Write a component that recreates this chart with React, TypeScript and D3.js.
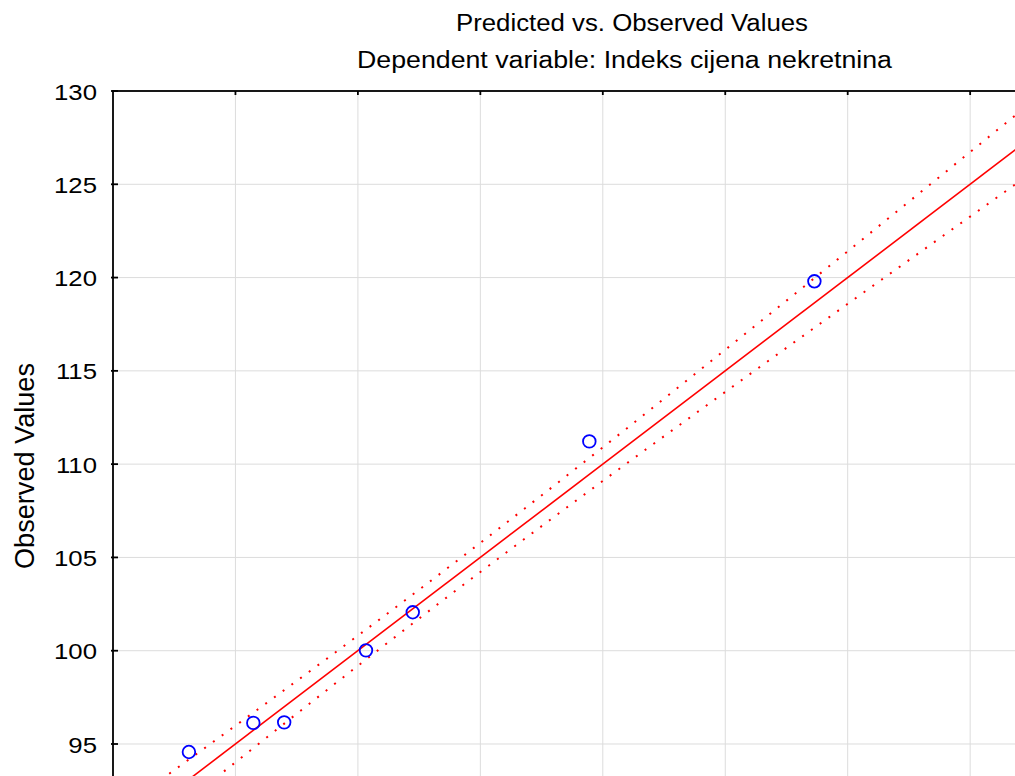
import React from "react";
import * as d3 from "d3";

const predicted = [93.1, 95.73, 96.99, 100.33, 102.24, 109.45, 118.64];
const observed = [94.57, 96.13, 96.16, 100.02, 102.06, 111.22, 119.8];

const bandX = [88, 90, 95, 100, 103.5, 105, 110, 115, 120, 125, 130, 132];
const bandHalf = [1.36, 1.24, 0.98, 0.81, 0.77, 0.78, 0.9, 1.13, 1.41, 1.73, 2.06, 2.2];

const xTicks = [95, 100, 105, 110, 115, 120, 125];
const yTicks = [95, 100, 105, 110, 115, 120, 125, 130];

const title1 = "Predicted vs. Observed Values";
const title2 = "Dependent variable: Indeks cijena nekretnina";
const yLabel = "Observed Values";

export default function App() {
  const left = 113;
  const top = 91;
  const x = d3.scaleLinear().domain([90, 130]).range([left, left + 40 * 24.49]);
  const y = d3.scaleLinear().domain([90, 130]).range([top + 40 * 18.657, top]);
  const right = x(130);
  const bottom = y(90);

  const fitLine = d3.line<number>().x((d) => x(d)).y((d) => y(d));
  const bandUpper = d3
    .line<number>()
    .x((d) => x(d))
    .y((d, i) => y(d + bandHalf[i]))
    .curve(d3.curveMonotoneX);
  const bandLower = d3
    .line<number>()
    .x((d) => x(d))
    .y((d, i) => y(d - bandHalf[i]))
    .curve(d3.curveMonotoneX);

  const font = "'Liberation Sans', Arial, sans-serif";
  const sx = 1.12;

  return (
    <svg
      width={1015}
      height={776}
      style={{ position: "fixed", left: 0, top: 0, background: "#fff" }}
    >
      <defs>
        <clipPath id="plotclip">
          <rect x={left} y={top} width={right - left} height={bottom - top} />
        </clipPath>
      </defs>
      <rect x={0} y={0} width={1015} height={776} fill="#fff" />
      {xTicks.map((t) => (
        <line key={"gx" + t} x1={x(t)} x2={x(t)} y1={top} y2={bottom} stroke="#dcdcdc" strokeWidth={1} />
      ))}
      {yTicks.map((t) => (
        <line key={"gy" + t} x1={left} x2={right} y1={y(t)} y2={y(t)} stroke="#dcdcdc" strokeWidth={1} />
      ))}
      <g clipPath="url(#plotclip)">
        <path d={fitLine([88, 132]) || ""} stroke="#ff0000" strokeWidth={1.6} fill="none" />
        <path
          d={bandUpper(bandX) || ""}
          stroke="#ff0000"
          strokeWidth={2}
          strokeDasharray="2 8.8"
          fill="none"
        />
        <path
          d={bandLower(bandX) || ""}
          stroke="#ff0000"
          strokeWidth={2}
          strokeDasharray="2 8.8"
          fill="none"
        />
        {predicted.map((p, i) => (
          <circle key={i} cx={x(p)} cy={y(observed[i])} r={6.3} fill="none" stroke="#0000ff" strokeWidth={1.8} />
        ))}
      </g>
      <rect x={left} y={top} width={right - left} height={bottom - top} fill="none" stroke="#000" strokeWidth={1.8} />
      {xTicks.map((t) => (
        <line key={"tx" + t} x1={x(t)} x2={x(t)} y1={top} y2={top + 4} stroke="#000" strokeWidth={1.8} />
      ))}
      {yTicks.map((t) => (
        <line key={"ty" + t} x1={left - 2} x2={left + 5} y1={y(t)} y2={y(t)} stroke="#000" strokeWidth={1.8} />
      ))}
      {yTicks.map((t) => (
        <text
          key={"ly" + t}
          transform={`translate(97, ${y(t) + 8.6}) scale(${sx}, 1)`}
          textAnchor="end"
          fontFamily={font}
          fontSize={23}
          fill="#000"
        >
          {t}
        </text>
      ))}
      <text
        x={632}
        y={31}
        textAnchor="middle"
        fontFamily={font}
        fontSize={23}
        textLength={352}
        lengthAdjust="spacingAndGlyphs"
        fill="#000"
      >
        {title1}
      </text>
      <text
        x={624.5}
        y={67.5}
        textAnchor="middle"
        fontFamily={font}
        fontSize={23}
        textLength={535}
        lengthAdjust="spacingAndGlyphs"
        fill="#000"
      >
        {title2}
      </text>
      <text
        transform={`translate(33.5, 466) rotate(-90)`}
        textAnchor="middle"
        fontFamily={font}
        fontSize={27}
        textLength={206}
        lengthAdjust="spacingAndGlyphs"
        fill="#000"
      >
        {yLabel}
      </text>
    </svg>
  );
}
